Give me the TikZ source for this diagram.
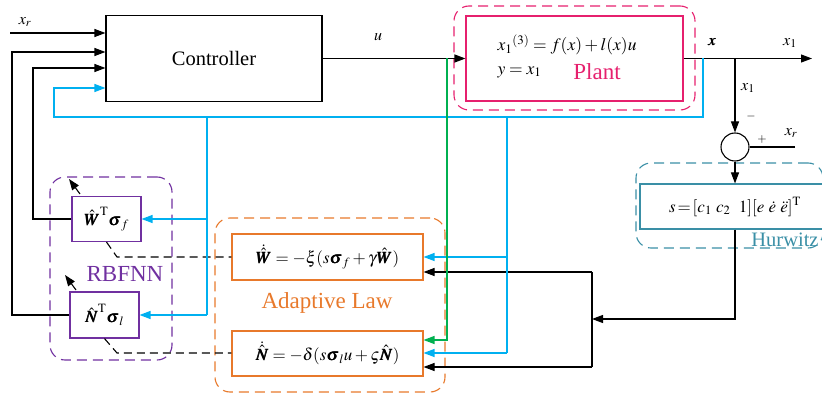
\documentclass[tikz,border=0pt]{standalone}
\usepackage{amsmath}
\usepackage{mathptmx}
\usepackage{bm}
\usepackage{fontspec}
\setmainfont{Liberation Serif}
\usetikzlibrary{arrows.meta,calc}
\definecolor{cblue}{HTML}{00B0F0}
\definecolor{cgreen}{HTML}{00B050}
\definecolor{cpink}{HTML}{E6206E}
\definecolor{corange}{HTML}{E8792B}
\definecolor{cpurple}{HTML}{7030A0}
\definecolor{cteal}{HTML}{3A8FA6}
\tikzset{
  box/.style={draw, line width=1.1pt, inner sep=0pt},
  grp/.style={draw, line width=1.1pt, rounded corners=15pt, dash pattern=on 10pt off 6pt, inner sep=0pt},
  arr/.style={-{Triangle[length=11pt,width=8pt]}},
  big/.style={font=\rmfamily\fontsize{20.5}{24}\selectfont},
  glab/.style={font=\rmfamily\fontsize{23}{27}\selectfont, inner sep=0pt},
  eq/.style={font=\fontsize{17}{20}\selectfont},
  lab/.style={font=\fontsize{16}{19}\selectfont, inner sep=1pt},
  sml/.style={font=\fontsize{12}{14}\selectfont, inner sep=1pt},
  dsh/.style={line width=1.1pt, dash pattern=on 8pt off 5pt},
  bl/.style={draw=cblue, line width=1.2pt},
}
\begin{document}
\begin{tikzpicture}[x=1pt,y=-1pt,line width=1.1pt]
\useasboundingbox (0,0) rectangle (822,395);
% groups
\node[grp, draw=cpink, minimum width=241, minimum height=104] (plantg) at (574.5,58) {};
\node[grp, draw=corange, minimum width=230, minimum height=174] (adg) at (330,305) {};
\node[grp, draw=cpurple, minimum width=122, minimum height=183] (rbfg) at (111,268.5) {};
\node[grp, draw=cteal, minimum width=187, minimum height=85] (hurg) at (729.5,205.5) {};
% boxes
\node[box, big, minimum width=216, minimum height=86] (ctrl) at (214,58.5) {Controller};
\node[box, draw=cpink, minimum width=217, minimum height=85] (plant) at (574.5,58.5) {};
\node[anchor=west, inner sep=0pt, font=\fontsize{17.5}{20}\selectfont] (peq1) at (497,45) {${x_1}^{(3)} = f(x)+l(x)u$};
\node[anchor=west, inner sep=0pt, font=\fontsize{17.5}{20}\selectfont] (peq2) at (497,72) {$y = x_1$};
\node[glab, text=cpink] (plantl) at (597,72) {Plant};
\node[box, draw=corange, eq, minimum width=191, minimum height=46] (Wdot) at (327.5,257) {$\dot{\hat{\bm W}} = -\xi(s\bm{\sigma}_f + \gamma\hat{\bm W})$};
\node[box, draw=corange, eq, minimum width=191, minimum height=45] (Ndot) at (327.5,353.5) {$\dot{\hat{\bm N}} = -\delta(s\bm{\sigma}_l u + \varsigma\hat{\bm N})$};
\node[box, draw=cpurple, eq, minimum width=69, minimum height=45] (Wt) at (106.5,219) {$\hat{\bm W}^{\mathrm T}\bm{\sigma}_f$};
\node[box, draw=cpurple, eq, minimum width=69, minimum height=46] (Nt) at (104.5,315) {$\hat{\bm N}^{\mathrm T}\bm{\sigma}_l$};
\node[box, draw=cteal, minimum width=190, minimum height=45] (hur) at (735,206.5) {};
\node[inner sep=0pt, font=\fontsize{17}{20}\selectfont] (hureq) at (735,207) {$s\!=\![c_1\ c_2\ \ 1][e\ \dot e\ \ddot e]^{\mathrm T}$};
\node[circle, draw, minimum size=28, inner sep=0pt] (sum) at (735,147) {};
% group labels
\node[glab, text=corange] (adl) at (327,303) {Adaptive Law};
\node[glab, text=cpurple] (rbfl) at (125,274) {RBFNN};
\node[glab, text=cteal, font=\rmfamily\fontsize{20.5}{24}\selectfont] (hurl) at (785,240) {Hurwitz};
% coordinates
\coordinate (xr0) at (10,33);
\coordinate (l2) at (12,52);
\coordinate (l3) at (33,68);
\coordinate (bx) at (703,58.5);
\coordinate (b1) at (703,117);
\coordinate (b2) at (54,117);
\coordinate (b3) at (54,88);
\coordinate (c1) at (207,117);
\coordinate (bw) at (207,219);
\coordinate (bn) at (207,315);
\coordinate (d1) at (507,117);
\coordinate (d2) at (507,257);
\coordinate (d3) at (507,353);
\coordinate (g1) at (447,58.5);
\coordinate (g2) at (447,340);
\coordinate (out) at (812,58.5);
\coordinate (br) at (735,58.5);
\coordinate (xr2) at (795,147);
\coordinate (h1) at (735,319);
\coordinate (bar) at (592,319);
\coordinate (bt) at (592,272);
\coordinate (bb) at (592,367);
\coordinate (dw) at (117,257);
\coordinate (dn) at (117,353);
\coordinate (ta1) at (80,194);
\coordinate (ta1e) at (69,179);
\coordinate (ta2) at (76,290);
\coordinate (ta2e) at (65,275);
% black connectors
\draw[arr] (xr0) -- (ctrl.west |- xr0);
\draw[arr] (Nt.west) -| (l2) -- (ctrl.west |- l2);
\draw[arr] (Wt.west) -| (l3) -- (ctrl.west |- l3);
\draw[arr] (ctrl.east) -- (ctrl.east -| plant.west);
\draw[arr] (plant.east) -- (out);
\draw[arr] (br) -- (sum.north);
\draw (xr2) -- (sum.east);
\draw[arr] (sum.south) -- (sum.south |- hur.north);
\draw[arr] (sum.south |- hur.south) -- (h1) -- (bar);
\draw (bt) -- (bb);
\draw[arr] (bt) -- (Wdot.east |- bt);
\draw[arr] (bb) -- (Ndot.east |- bb);
\draw[arr] (ta1) -- (ta1e);
\draw[arr] (ta2) -- (ta2e);
% dashed
\draw[dsh] (Wt.south) -- (dw) -- (Wdot.west |- dw);
\draw[dsh] (Nt.south) -- (dn) -- (Ndot.west |- dn);
% blue
\draw[bl, arr] (bx) -- (b1) -- (b2) -- (b3) -- (ctrl.west |- b3);
\draw[bl] (c1) -- (bn);
\draw[bl, arr] (bw) -- (Wt.east |- bw);
\draw[bl, arr] (bn) -- (Nt.east |- bn);
\draw[bl] (d1) -- (d3);
\draw[bl, arr] (d2) -- (Wdot.east |- d2);
\draw[bl, arr] (d3) -- (Ndot.east |- d3);
% green
\draw[draw=cgreen, line width=1.2pt, arr] (g1) -- (g2) -- (Ndot.east |- g2);
% labels
\node[lab] (lxr) at (25,22) {$x_r$};
\node[lab] (lu) at (378,37) {$u$};
\node[lab] (lx) at (712,42) {$\bm x$};
\node[lab] (lx1) at (790,43) {$x_1$};
\node[lab] (lx1b) at (748,88) {$x_1$};
\node[sml] (lminus) at (751,117) {$-$};
\node[sml] (lplus) at (762,140) {$+$};
\node[lab] (lxr2) at (791,133) {$x_r$};
\end{tikzpicture}
\end{document}
